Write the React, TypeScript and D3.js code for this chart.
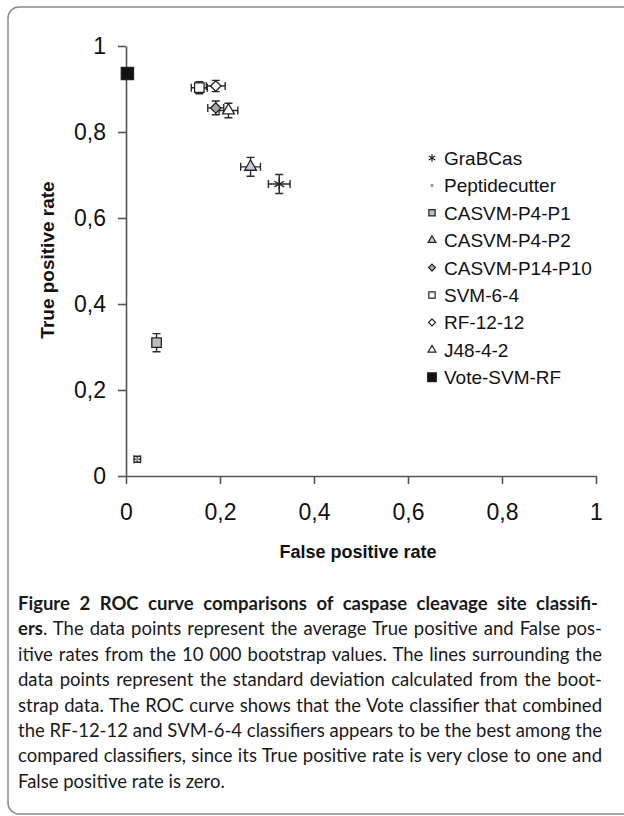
import React, { useEffect, useRef } from 'react'
import * as d3 from 'd3'

// classifiers and their mean rates
const classifiers = ['GraBCas', 'Peptidecutter', 'CASVM-P4-P1', 'CASVM-P4-P2', 'CASVM-P14-P10', 'SVM-6-4', 'RF-12-12', 'J48-4-2', 'Vote-SVM-RF']
const fpr = [0.326, 0.024, 0.065, 0.265, 0.191, 0.156, 0.191, 0.218, 0.003]
const tpr = [0.679, 0.039, 0.31, 0.719, 0.856, 0.903, 0.907, 0.85, 0.936]
const fprSd = [0.023, 0.007, 0.005, 0.021, 0.017, 0.017, 0.02, 0.02, 0]
const tprSd = [0.022, 0.007, 0.021, 0.022, 0.016, 0.014, 0.013, 0.017, 0]
const markerKind = ['asterisk', 'dot', 'square', 'triangle', 'diamond', 'square', 'diamond', 'triangle', 'square']
const markerFill = ['#222', '#999', '#bdbdbd', '#c9c9e0', '#a8a8a8', '#fff', '#fff', '#fff', '#111']
const markerSize = [90, 10, 90, 60, 70, 90, 70, 60, 150]
const legendSize = [40, 8, 40, 26, 30, 40, 30, 26, 75]
const axisTicks = [0, 0.2, 0.4, 0.6, 0.8, 1]

const captionLines = [
  [{ t: 'Figure 2 ROC curve comparisons of caspase cleavage site classifi-', b: true }],
  [{ t: 'ers', b: true }, { t: '. The data points represent the average True positive and False pos-', b: false }],
  [{ t: 'itive rates from the 10 000 bootstrap values. The lines surrounding the', b: false }],
  [{ t: 'data points represent the standard deviation calculated from the boot-', b: false }],
  [{ t: 'strap data. The ROC curve shows that the Vote classifier that combined', b: false }],
  [{ t: 'the RF-12-12 and SVM-6-4 classifiers appears to be the best among the', b: false }],
  [{ t: 'compared classifiers, since its True positive rate is very close to one and', b: false }],
  [{ t: 'False positive rate is zero.', b: false }],
]

const W = 624
const H = 816

const symbolFor = (kind: string) => {
  if (kind === 'asterisk') return d3.symbolAsterisk
  if (kind === 'diamond') return d3.symbolDiamond2
  if (kind === 'triangle') return d3.symbolTriangle
  if (kind === 'dot') return d3.symbolCircle
  return d3.symbolSquare
}

const fmt = (d: number) => (d === 0 || d === 1 ? String(d) : d.toFixed(1).replace('.', ','))

export default function App() {
  const ref = useRef<SVGSVGElement>(null)

  useEffect(() => {
    const svg = d3.select(ref.current)
    svg.selectAll('*').remove()

    // outer frame with rounded corners, running off the right edge
    svg.append('rect')
      .attr('x', 8).attr('y', 7).attr('width', 660).attr('height', 807)
      .attr('rx', 11)
      .attr('fill', 'none').attr('stroke', '#8a8a8a').attr('stroke-width', 1.5)

    const x = d3.scaleLinear().domain([0, 1]).range([126, 596])
    const y = d3.scaleLinear().domain([0, 1]).range([476, 46])
    const font = '"Liberation Sans", Arial, sans-serif'

    // x axis
    const gx = svg.append('g')
      .attr('transform', 'translate(0,' + y(0) + ')')
      .call(d3.axisBottom(x).tickValues(axisTicks).tickFormat(d => fmt(+d)).tickSize(8).tickSizeOuter(0).tickPadding(20))
    gx.selectAll('line').attr('stroke', '#555').attr('stroke-width', 1.6)
    gx.select('.domain').attr('stroke', '#555').attr('stroke-width', 1.6)
    gx.selectAll('text').attr('font-family', font).attr('font-size', 23).attr('fill', '#111')

    // y axis
    const gy = svg.append('g')
      .attr('transform', 'translate(' + x(0) + ',0)')
      .call(d3.axisLeft(y).tickValues(axisTicks).tickFormat(d => fmt(+d)).tickSize(8).tickSizeOuter(0).tickPadding(12))
    gy.selectAll('line').attr('stroke', '#555').attr('stroke-width', 1.6)
    gy.select('.domain').attr('stroke', '#555').attr('stroke-width', 1.6)
    gy.selectAll('text').attr('font-family', font).attr('font-size', 23).attr('fill', '#111')

    // axis titles
    svg.append('text')
      .attr('x', 358).attr('y', 558)
      .attr('text-anchor', 'middle')
      .attr('font-family', font).attr('font-size', 18).attr('font-weight', 'bold').attr('fill', '#111')
      .text('False positive rate')
    svg.append('text')
      .attr('transform', 'translate(54,260) rotate(-90)')
      .attr('text-anchor', 'middle')
      .attr('font-family', font).attr('font-size', 19).attr('font-weight', 'bold').attr('fill', '#111')
      .text('True positive rate')

    const idx = d3.range(classifiers.length)

    // error bars
    const bars = svg.append('g').attr('stroke', '#2a2a2a').attr('stroke-width', 1.4).attr('fill', 'none')
    const cap = 4
    idx.forEach(i => {
      if (fprSd[i] === 0 && tprSd[i] === 0) return
      const cx = x(fpr[i]), cy = y(tpr[i])
      const x0 = x(fpr[i] - fprSd[i]), x1 = x(fpr[i] + fprSd[i])
      const y0 = y(tpr[i] - tprSd[i]), y1 = y(tpr[i] + tprSd[i])
      const p = d3.path()
      p.moveTo(x0, cy); p.lineTo(x1, cy)
      p.moveTo(x0, cy - cap); p.lineTo(x0, cy + cap)
      p.moveTo(x1, cy - cap); p.lineTo(x1, cy + cap)
      p.moveTo(cx, y0); p.lineTo(cx, y1)
      p.moveTo(cx - cap, y0); p.lineTo(cx + cap, y0)
      p.moveTo(cx - cap, y1); p.lineTo(cx + cap, y1)
      bars.append('path').attr('d', p.toString())
    })

    // markers
    svg.append('g').selectAll('path')
      .data(idx)
      .join('path')
      .attr('transform', i => 'translate(' + x(fpr[i]) + ',' + y(tpr[i]) + ')')
      .attr('d', i => d3.symbol().type(symbolFor(markerKind[i])).size(markerSize[i])())
      .attr('fill', i => markerKind[i] === 'asterisk' ? 'none' : markerFill[i])
      .attr('stroke', i => markerKind[i] === 'dot' ? 'none' : '#222')
      .attr('stroke-width', 1.3)

    // legend
    const legend = svg.append('g')
    idx.forEach(i => {
      const ly = 158 + i * 27.4
      legend.append('path')
        .attr('transform', 'translate(432,' + ly + ')')
        .attr('d', d3.symbol().type(symbolFor(markerKind[i])).size(legendSize[i])())
        .attr('fill', markerKind[i] === 'asterisk' ? 'none' : markerFill[i])
        .attr('stroke', markerKind[i] === 'dot' ? 'none' : '#222')
        .attr('stroke-width', 1.2)
      legend.append('text')
        .attr('x', 444).attr('y', ly + 7)
        .attr('font-family', font).attr('font-size', 19).attr('fill', '#111')
        .text(classifiers[i])
    })

    // caption, justified by widening the word gaps
    const cfont = 'Lato, "Open Sans", sans-serif'
    captionLines.forEach((parts, li) => {
      const t = svg.append('text')
        .attr('x', 18).attr('y', 610 + li * 25.4)
        .attr('font-family', cfont).attr('font-size', 18.5).attr('fill', '#1a1a1a')
      parts.forEach(part => {
        t.append('tspan').attr('font-weight', part.b ? 'bold' : 'normal').text(part.t)
      })
      if (li < captionLines.length - 1) {
        const target = li === 0 ? 580 : 584
        const node = t.node() as SVGTextElement
        const natural = node.getComputedTextLength()
        const gaps = parts.map(p => p.t).join('').split(' ').length - 1
        if (gaps > 0) t.attr('word-spacing', (target - natural) / gaps)
      }
    })
  }, [])

  return (
    <svg
      ref={ref}
      width={W}
      height={H}
      style={{ position: 'absolute', left: 0, top: 0, background: '#fff' }}
    />
  )
}
